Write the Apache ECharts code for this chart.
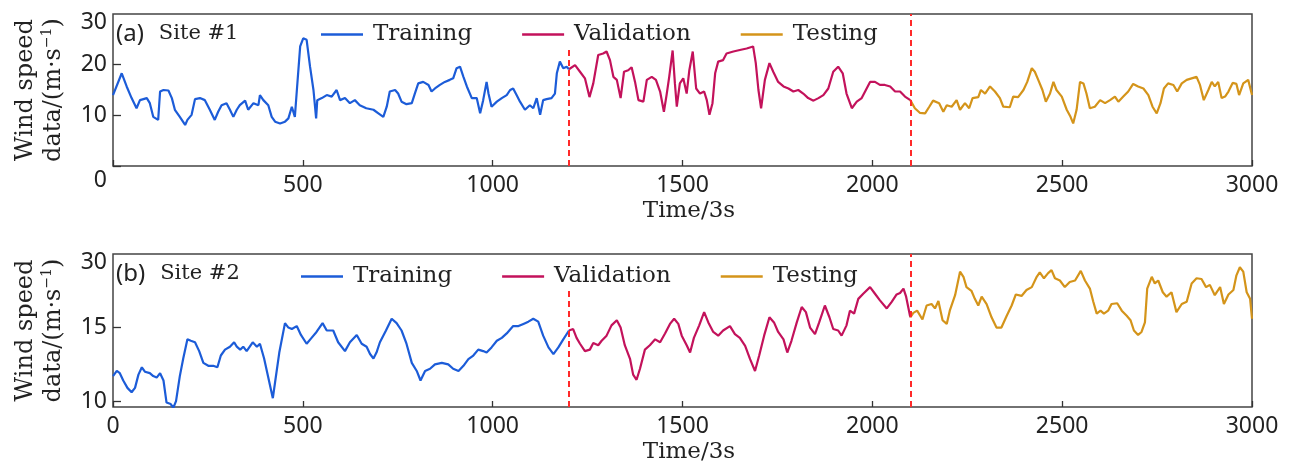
<!DOCTYPE html>
<html>
<head>
<meta charset="utf-8">
<script src="https://cdn.jsdelivr.net/npm/echarts@6/dist/echarts.min.js"></script>
<style>
html,body{margin:0;padding:0;background:#fff;}
#chart{width:1292px;height:469px;}
</style>
</head>
<body>
<div id="chart"></div>
<script>
// ---------------- data (time index, wind speed m/s) ----------------
const seriesNames = ['Training', 'Validation', 'Testing'];
const splitPoints = [1200, 2100];
// upper end (in data units) of each dashed split line, per panel (first stops below the legend)
const splitTopsA = [23.5, 30];
const splitTopsB = [17.6, 20];

const siteA_train = [[0,14.0],[23,18.3],[36,15.7],[49,13.4],[62,11.4],[71,13.0],[89,13.4],[97,12.4],[106,9.7],[119,9.1],[124,14.7],[133,15.0],[146,14.9],[155,13.4],[163,11.1],[176,9.7],[190,8.1],[196,9.1],[207,10.1],[216,13.2],[229,13.4],[242,13.0],[255,11.1],[268,9.1],[277,10.7],[286,12.0],[299,12.4],[308,11.1],[317,9.7],[326,11.1],[334,12.0],[348,12.9],[356,11.1],[370,12.4],[383,12.0],[387,14.0],[396,13.0],[409,12.0],[418,9.7],[427,8.75],[440,8.4],[453,8.75],[462,9.4],[471,11.7],[479,9.7],[484,14.7],[493,23.6],[501,25.2],[510,24.9],[519,19.6],[528,15.0],[535,9.4],[538,13.0],[550,13.4],[563,14.0],[576,13.7],[589,15.0],[598,13.0],[611,13.4],[624,12.4],[637,13.0],[650,12.0],[667,11.4],[686,11.1],[699,10.4],[712,9.7],[721,11.7],[729,14.7],[743,15.0],[751,14.3],[760,12.7],[773,12.2],[787,12.4],[795,14.3],[804,16.3],[817,16.6],[831,16.0],[839,14.7],[848,15.3],[861,16.0],[874,16.6],[887,17.0],[896,17.3],[905,19.3],[914,19.6],[923,17.6],[932,15.7],[945,13.4],[958,13.4],[967,10.4],[975,13.0],[984,16.6],[989,14.3],[997,11.7],[1011,12.7],[1024,13.4],[1037,14.0],[1046,15.0],[1054,15.3],[1063,14.0],[1072,12.7],[1085,11.1],[1098,12.0],[1107,11.4],[1116,13.4],[1125,10.1],[1133,13.0],[1142,13.2],[1155,13.4],[1164,14.3],[1169,18.3],[1177,20.6],[1186,19.3],[1195,19.6],[1201,19.1]];
const siteA_val = [[1201,19.1],[1217,19.9],[1230,18.6],[1243,17.3],[1255,13.6],[1265,16.3],[1278,21.9],[1291,22.2],[1300,22.6],[1309,20.9],[1318,17.6],[1327,17.0],[1337,13.4],[1346,18.6],[1357,18.9],[1366,19.5],[1375,16.6],[1384,13.0],[1397,12.7],[1406,17.0],[1419,17.6],[1430,17.0],[1441,14.7],[1451,10.7],[1458,14.0],[1465,17.6],[1474,22.8],[1480,16.3],[1485,11.7],[1493,16.3],[1502,17.3],[1511,14.3],[1518,18.9],[1527,22.6],[1536,15.3],[1546,14.3],[1557,14.7],[1564,13.0],[1571,10.1],[1579,12.4],[1586,18.3],[1594,20.6],[1607,20.9],[1616,22.2],[1634,22.6],[1651,22.9],[1669,23.2],[1686,23.6],[1693,20.3],[1700,15.0],[1707,11.4],[1717,17.0],[1729,20.3],[1739,18.6],[1752,16.6],[1766,15.7],[1779,15.3],[1792,14.7],[1805,15.0],[1818,14.3],[1831,13.4],[1845,12.9],[1858,13.4],[1871,14.0],[1884,15.3],[1897,18.6],[1910,19.6],[1922,18.3],[1932,14.3],[1946,11.4],[1959,12.7],[1972,13.4],[1983,15.0],[1994,16.6],[2007,16.6],[2020,16.0],[2033,16.0],[2047,15.7],[2060,14.7],[2073,14.7],[2086,13.7],[2100,13.0]];
const siteA_test = [[2100,13.0],[2112,11.4],[2125,10.5],[2139,10.4],[2150,11.7],[2160,12.9],[2176,12.4],[2187,10.7],[2196,12.0],[2209,11.7],[2222,13.0],[2231,11.1],[2244,12.4],[2255,11.4],[2264,13.4],[2279,13.6],[2286,15.0],[2297,14.3],[2310,15.7],[2323,14.7],[2336,13.4],[2345,11.7],[2362,11.6],[2371,13.7],[2384,13.6],[2398,15.0],[2408,16.6],[2420,19.3],[2428,18.6],[2437,17.0],[2448,15.0],[2457,12.7],[2468,14.3],[2477,16.6],[2485,15.0],[2499,13.7],[2512,11.1],[2522,9.7],[2529,8.4],[2538,11.1],[2547,16.6],[2556,16.3],[2564,14.3],[2573,11.4],[2586,11.7],[2600,13.0],[2613,12.4],[2626,13.0],[2639,13.7],[2648,12.7],[2661,13.7],[2674,14.7],[2687,16.2],[2700,15.7],[2714,15.3],[2727,14.0],[2738,11.7],[2749,10.4],[2759,12.4],[2768,15.3],[2779,16.3],[2793,16.0],[2803,14.7],[2815,16.3],[2828,17.0],[2841,17.3],[2854,17.6],[2863,16.0],[2873,13.0],[2885,15.0],[2894,16.6],[2902,15.7],[2911,16.6],[2920,13.4],[2929,13.7],[2938,14.7],[2949,16.4],[2959,16.2],[2966,14.0],[2977,16.3],[2990,17.0],[3000,14.0]];

const siteB_train = [[0,11.7],[10,12.05],[18,11.9],[27,11.4],[38,10.9],[49,10.6],[58,10.9],[67,11.8],[76,12.3],[84,12.0],[97,11.9],[106,11.7],[115,11.6],[124,11.9],[133,11.4],[141,9.9],[152,9.8],[159,9.55],[166,10.0],[176,11.7],[185,12.9],[196,14.2],[205,14.1],[216,14.0],[227,13.4],[238,12.6],[251,12.4],[264,12.4],[275,12.3],[284,13.1],[295,13.5],[308,13.7],[319,14.0],[326,13.7],[335,13.5],[343,13.7],[352,13.4],[368,14.0],[379,13.7],[387,13.9],[398,12.9],[409,11.6],[421,10.2],[427,11.3],[438,13.3],[453,15.3],[462,15.0],[471,14.9],[484,15.1],[495,14.5],[510,13.9],[523,14.3],[536,14.7],[552,15.3],[563,14.8],[580,14.8],[593,14.0],[611,13.4],[624,14.0],[642,14.5],[655,13.9],[668,13.7],[677,13.2],[686,12.9],[694,13.3],[703,14.0],[719,14.8],[734,15.6],[747,15.3],[760,14.8],[773,13.9],[787,12.6],[800,12.05],[810,11.4],[822,12.05],[835,12.2],[848,12.5],[866,12.6],[883,12.5],[896,12.2],[910,12.05],[923,12.4],[936,12.85],[949,13.1],[962,13.5],[975,13.4],[984,13.3],[997,13.65],[1011,14.1],[1024,14.3],[1037,14.6],[1054,15.1],[1068,15.1],[1081,15.25],[1094,15.4],[1107,15.6],[1120,15.4],[1133,14.45],[1147,13.65],[1160,13.2],[1173,13.65],[1186,14.2],[1201,14.8]];
const siteB_val = [[1201,14.8],[1212,14.9],[1221,14.3],[1230,13.9],[1243,13.4],[1256,13.5],[1265,13.95],[1278,13.8],[1287,14.1],[1300,14.45],[1313,15.15],[1327,15.5],[1337,15.0],[1348,13.8],[1362,12.85],[1370,11.8],[1379,11.45],[1388,12.2],[1401,13.5],[1414,13.8],[1428,14.2],[1441,14.0],[1454,14.6],[1467,15.25],[1478,15.6],[1489,15.25],[1498,14.45],[1511,13.8],[1520,13.3],[1530,14.3],[1544,15.15],[1557,16.05],[1568,15.35],[1581,14.7],[1594,14.45],[1607,14.8],[1625,15.1],[1638,14.55],[1651,14.3],[1665,13.75],[1678,12.85],[1691,12.05],[1702,13.1],[1715,14.45],[1729,15.7],[1741,15.35],[1752,14.7],[1766,14.2],[1776,13.3],[1787,14.1],[1801,15.35],[1814,16.4],[1825,16.05],[1836,15.0],[1849,14.55],[1860,15.35],[1875,16.5],[1887,15.7],[1897,14.9],[1910,14.8],[1919,14.45],[1932,15.15],[1941,16.15],[1952,15.95],[1963,16.95],[1976,17.3],[1994,17.75],[2007,17.3],[2020,16.85],[2038,16.3],[2051,16.75],[2064,17.25],[2073,17.35],[2082,17.65],[2089,17.1],[2100,15.7]];
const siteB_test = [[2100,15.7],[2108,16.0],[2118,16.15],[2132,15.55],[2143,16.5],[2156,16.6],[2165,16.3],[2174,16.8],[2185,15.5],[2196,15.25],[2204,16.15],[2218,17.2],[2231,18.8],[2240,18.45],[2248,17.75],[2261,17.5],[2270,16.95],[2279,16.5],[2288,17.1],[2301,16.6],[2314,15.7],[2327,15.0],[2340,15.0],[2354,15.8],[2367,16.5],[2378,17.25],[2393,17.15],[2406,17.55],[2420,17.75],[2433,18.45],[2441,18.75],[2452,18.35],[2463,18.7],[2472,18.9],[2481,18.35],[2494,18.2],[2507,17.75],[2520,18.1],[2534,18.2],[2549,18.85],[2560,18.2],[2573,17.65],[2582,16.75],[2591,15.95],[2601,16.15],[2610,15.95],[2621,16.15],[2630,16.6],[2645,16.65],[2657,16.15],[2670,15.8],[2680,15.5],[2689,14.8],[2700,14.5],[2709,14.7],[2718,15.35],[2724,17.65],[2736,18.45],[2744,18.0],[2753,18.2],[2765,17.4],[2775,17.1],[2788,17.4],[2801,16.05],[2815,16.6],[2828,16.75],[2841,18.0],[2854,18.35],[2867,18.3],[2879,17.75],[2889,17.9],[2902,17.2],[2916,17.75],[2926,16.6],[2938,17.25],[2951,17.55],[2959,18.55],[2968,19.1],[2977,18.8],[2986,17.4],[2995,16.95],[3000,15.6]];

// axis ticks / labels
const xTicks = [0, 500, 1000, 1500, 2000, 2500, 3000];
const xLabelsA = ['', '500', '1000', '1500', '2000', '2500', '3000'];
const xLabelsB = ['0', '500', '1000', '1500', '2000', '2500', '3000'];
const yTicksA = [0, 10, 20, 30];
const yLabelsA = ['0', '10', '20', '30'];
const yTicksB = [10, 15, 20];
const yLabelsB = ['10', '15', '30'];
const panelTitles = ['Site #1', 'Site #2'];
const panelTags = ['(a)', '(b)'];

// ---------------- styling ----------------
const colors = ['#1c5cd8', '#c3125b', '#d4941a'];
const serif = 'DejaVu Serif';
const sans = 'Noto Sans';
const txt = '#222';

const panels = [
  {top: 14, height: 152, ymin: 0, ymax: 30, yTicks: yTicksA, yLabels: yLabelsA, xLabels: xLabelsA,
   splitTops: splitTopsA, data: [siteA_train, siteA_val, siteA_test], legendLeft: 317, legendTop: 19},
  {top: 254, height: 153, ymin: 9.6, ymax: 20, yTicks: yTicksB, yLabels: yLabelsB, xLabels: xLabelsB,
   splitTops: splitTopsB, data: [siteB_train, siteB_val, siteB_test], legendLeft: 297, legendTop: 261}
];

const grids = [], xAxes = [], yAxes = [], series = [], legends = [], titles = [];
panels.forEach((p, i) => {
  grids.push({left: 113, width: 1139, top: p.top, height: p.height, show: true, containLabel: false,
    outerBoundsMode: 'none',
    borderColor: '#444', borderWidth: 1.5, backgroundColor: 'transparent'});
  xAxes.push({type: 'value', gridIndex: i, min: 0, max: 3000, interval: 500,
    axisLine: {show: false}, splitLine: {show: false},
    axisTick: {show: true, inside: true, length: 6, lineStyle: {color: '#333', width: 1.3}},
    axisLabel: {margin: 8, color: txt, fontFamily: sans, fontSize: 23,
      formatter: v => { const k = xTicks.indexOf(v); return k >= 0 ? p.xLabels[k] : ''; }},
    name: 'Time/3s', nameLocation: 'middle', nameGap: 34,
    nameTextStyle: {fontFamily: serif, fontSize: 23, color: txt, verticalAlign: 'top', padding: [0, 0, 0, 13]}
  });
  yAxes.push({type: 'value', gridIndex: i, min: p.ymin, max: p.ymax,
    axisLine: {show: false}, splitLine: {show: false},
    axisTick: {show: true, inside: true, length: 8, lineStyle: {color: '#333', width: 1.3},
      customValues: p.yTicks.slice(0, -1)},
    axisLabel: {margin: 6, color: txt, fontFamily: sans, fontSize: 23, customValues: p.yTicks,
      formatter: v => {
        const k = p.yTicks.indexOf(v); const s = k >= 0 ? p.yLabels[k] : '';
        if (v === p.ymax) return '{top|' + s + '}';
        if (i === 0 && v === p.ymin) return '{bot|' + s + '}';
        return '{n|' + s + '}';
      },
      rich: {
        n: {fontFamily: sans, fontSize: 23, color: txt},
        top: {fontFamily: sans, fontSize: 23, color: txt, padding: [16, 0, 0, 0]},
        bot: {fontFamily: sans, fontSize: 23, color: txt, padding: [28, 0, 0, 0]}
      }},
    name: 'Wind speed\ndata/(m·s{sup|−1})', nameLocation: 'middle', nameRotate: 90, nameGap: 45,
    nameTextStyle: {fontFamily: serif, fontSize: 24, color: txt, lineHeight: 28,
      rich: {sup: {fontFamily: serif, fontSize: 14, color: txt, verticalAlign: 'top', lineHeight: 28, padding: [0, 0, 12, 0]}}}
  });
  p.data.forEach((d, j) => {
    const s = {type: 'line', name: seriesNames[j], xAxisIndex: i, yAxisIndex: i, data: d,
      showSymbol: false, symbol: 'none', smooth: false, animation: false,
      lineStyle: {color: colors[j], width: 2.2}, itemStyle: {color: colors[j]}, z: 3};
    if (j === 0) {
      s.markLine = {silent: true, symbol: 'none', label: {show: false}, animation: false,
        lineStyle: {color: '#ff2a2a', type: [6, 4], width: 2},
        data: splitPoints.map((x, k) => [{coord: [x, p.ymin]}, {coord: [x, p.splitTops[k]]}])};
    }
    series.push(s);
  });
  legends.push({left: p.legendLeft, top: p.legendTop, orient: 'horizontal', data: seriesNames,
    icon: 'rect', itemWidth: 42, itemHeight: 2.5, itemGap: 50, padding: [4, 4, 4, 4],
    selectedMode: false, z: 10,
    textStyle: {fontFamily: serif, fontSize: 23, color: txt, padding: [0, 0, 0, 5]}});
  titles.push({left: 116, top: p.top + 8, padding: 0,
    text: '{a|' + panelTags[i] + '}{b|' + panelTitles[i] + '}',
    textStyle: {fontWeight: 'normal', rich: {
      a: {fontFamily: sans, fontSize: 24, fontWeight: 'normal', color: txt, padding: [0, 15, 0, 0]},
      b: {fontFamily: serif, fontSize: 21, fontWeight: 'normal', color: txt}}}});
});

const chart = echarts.init(document.getElementById('chart'), null, {renderer: 'canvas'});
chart.setOption({
  animation: false, backgroundColor: '#fff',
  title: titles, grid: grids, xAxis: xAxes, yAxis: yAxes, legend: legends, series: series
});
</script>
</body>
</html>
